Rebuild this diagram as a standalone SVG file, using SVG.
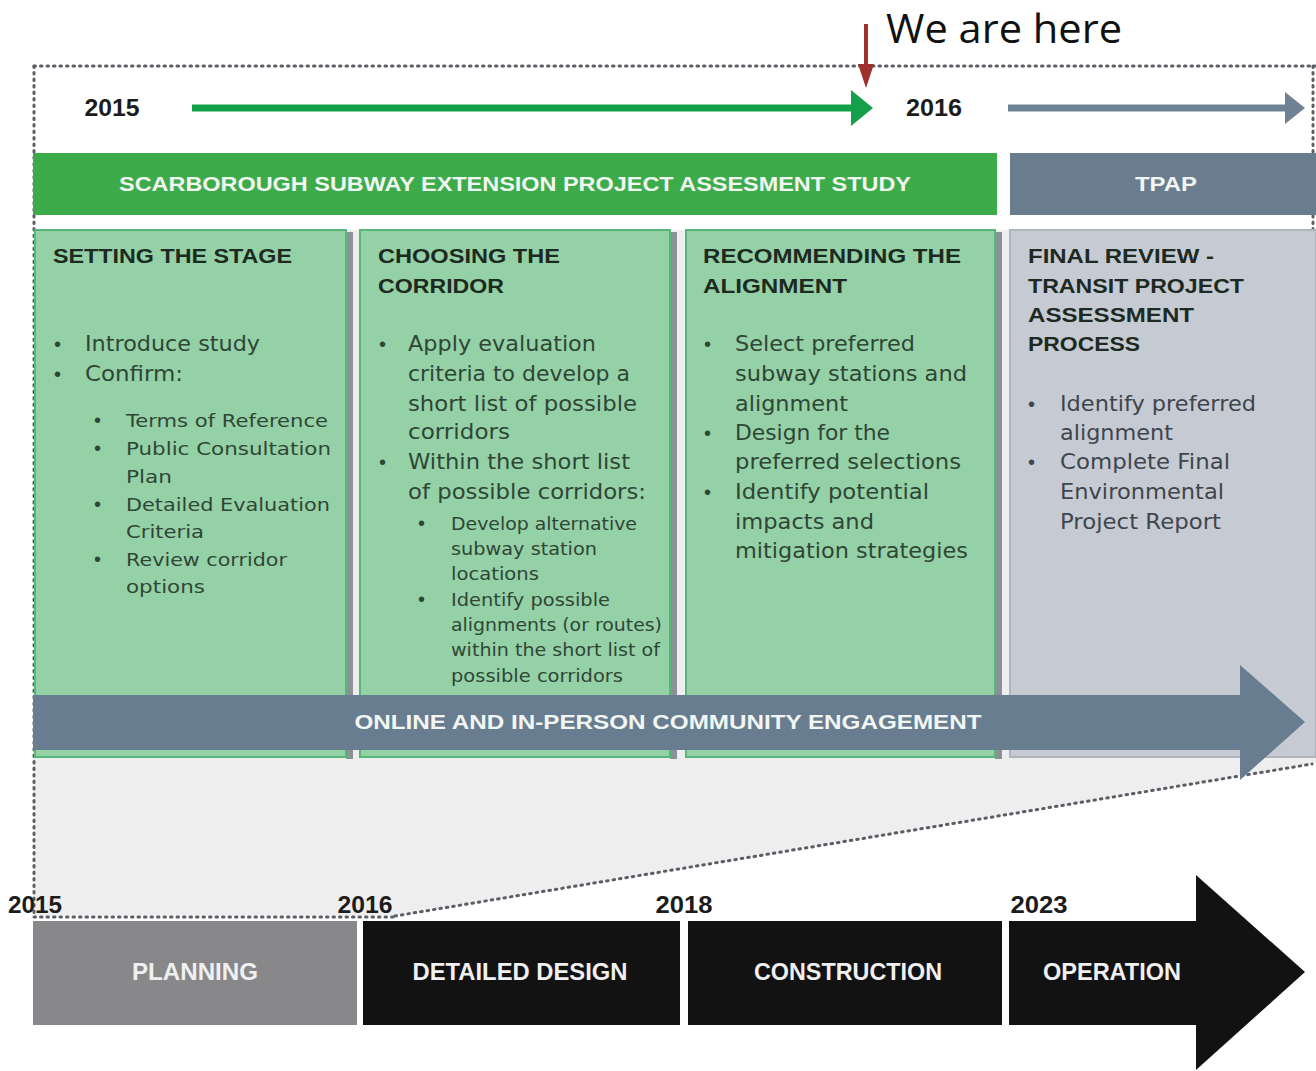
<svg xmlns="http://www.w3.org/2000/svg" width="1316" height="1071" viewBox="0 0 1316 1071">
<defs>
<style>
.dot{fill:none;stroke:#5a5f66;stroke-width:3;stroke-dasharray:1.5 5;stroke-linecap:round}
.yr{font-family:"Liberation Sans",Arial,sans-serif;font-weight:bold;font-size:23px;fill:#1c1c1c;text-anchor:middle}
.bar{font-family:"Liberation Sans",Arial,sans-serif;font-weight:bold;font-size:21px;fill:#f2f6f2;text-anchor:middle}
.hd{font-family:"Liberation Sans",Arial,sans-serif;font-weight:bold;font-size:21px;fill:#1d2a22}
.tx{font-family:"DejaVu Sans","Liberation Sans",sans-serif;font-size:21px;fill:#2f4637}
.sx{font-family:"DejaVu Sans","Liberation Sans",sans-serif;font-size:18.5px;fill:#2f4637}
.ux{font-family:"DejaVu Sans","Liberation Sans",sans-serif;font-size:17.5px;fill:#2f4637}
.gx{font-family:"DejaVu Sans","Liberation Sans",sans-serif;font-size:21px;fill:#3f454c}
.bl{font-family:"Liberation Sans",Arial,sans-serif;font-size:20px}
.card{fill:#95d1a6;stroke:#55b878;stroke-width:2}
.shadow{fill:#8c9097}
.ph{font-family:"Liberation Sans",Arial,sans-serif;font-weight:bold;font-size:23px;fill:#f0f0f0;text-anchor:middle}
</style>
</defs>
<rect width="1316" height="1071" fill="#ffffff"/>
<polygon points="34,230 1316,230 1316,763 395,916 34,916" fill="#eeeeee"/>

<g id="connectors">
<line class="dot" x1="34" y1="66" x2="1316" y2="66"/>
<line class="dot" x1="34" y1="66" x2="34" y2="916"/>
<line class="dot" x1="1313" y1="66" x2="1313" y2="752"/>
<line class="dot" x1="34" y1="917" x2="395" y2="917"/>
<line class="dot" x1="395" y1="916" x2="1312" y2="764"/>
<line class="dot" x1="1240" y1="753" x2="1316" y2="753"/>
<line x1="192" y1="108" x2="856" y2="108" stroke="#14a04a" stroke-width="7"/>
<polygon points="851,90 873,108 851,126" fill="#14a04a"/>
<line x1="1008" y1="108" x2="1290" y2="108" stroke="#6e8294" stroke-width="7"/>
<polygon points="1285,92 1305,108 1285,124" fill="#6e8294"/>
<line x1="866" y1="24" x2="866" y2="70" stroke="#a0302e" stroke-width="4"/>
<polygon points="858,64 874,64 866,88" fill="#a0302e"/>
</g>

<g id="label-we-are-here"><text x="886" y="43" font-family="'Open Sans','Noto Sans',sans-serif" font-size="41" fill="#111" textLength="236" lengthAdjust="spacingAndGlyphs">We are here</text></g>
<g id="year-2015-top"><text class="yr" x="112" y="116" textLength="55" lengthAdjust="spacingAndGlyphs">2015</text></g>
<g id="year-2016-top"><text class="yr" x="934" y="116" textLength="56" lengthAdjust="spacingAndGlyphs">2016</text></g>

<g id="study-bar">
<rect x="33" y="153" width="964" height="62" fill="#3cab4a"/>
<text class="bar" x="515" y="191" textLength="792" lengthAdjust="spacingAndGlyphs">SCARBOROUGH SUBWAY EXTENSION PROJECT ASSESMENT STUDY</text>
</g>
<g id="tpap-bar">
<rect x="1010" y="153" width="306" height="62" fill="#6a7d8f"/>
<text class="bar" x="1166" y="191" textLength="62" lengthAdjust="spacingAndGlyphs">TPAP</text>
</g>

<g id="card-setting">
<rect class="shadow" x="346" y="232" width="7" height="527"/>
<rect class="card" x="35" y="230" width="311" height="527"/>
<text class="hd" x="53" y="263" textLength="239" lengthAdjust="spacingAndGlyphs">SETTING THE STAGE</text>
<text class="tx bl" x="54" y="351">•</text><text class="tx" x="85" y="351" textLength="175" lengthAdjust="spacingAndGlyphs">Introduce study</text>
<text class="tx bl" x="54" y="381">•</text><text class="tx" x="85" y="381" textLength="98" lengthAdjust="spacingAndGlyphs">Confirm:</text>
<text class="sx bl" x="94" y="427">•</text><text class="sx" x="126" y="427" textLength="202" lengthAdjust="spacingAndGlyphs">Terms of Reference</text>
<text class="sx bl" x="94" y="455">•</text><text class="sx" x="126" y="455" textLength="205" lengthAdjust="spacingAndGlyphs">Public Consultation</text>
<text class="sx" x="126" y="483" textLength="46" lengthAdjust="spacingAndGlyphs">Plan</text>
<text class="sx bl" x="94" y="511">•</text><text class="sx" x="126" y="511" textLength="204" lengthAdjust="spacingAndGlyphs">Detailed Evaluation</text>
<text class="sx" x="126" y="538" textLength="78" lengthAdjust="spacingAndGlyphs">Criteria</text>
<text class="sx bl" x="94" y="566">•</text><text class="sx" x="126" y="566" textLength="161" lengthAdjust="spacingAndGlyphs">Review corridor</text>
<text class="sx" x="126" y="593" textLength="79" lengthAdjust="spacingAndGlyphs">options</text>
</g>

<g id="card-corridor">
<rect class="shadow" x="670" y="232" width="7" height="527"/>
<rect class="card" x="360" y="230" width="310" height="527"/>
<text class="hd" x="378" y="263" textLength="182" lengthAdjust="spacingAndGlyphs">CHOOSING THE</text>
<text class="hd" x="378" y="293" textLength="126" lengthAdjust="spacingAndGlyphs">CORRIDOR</text>
<text class="tx bl" x="379" y="351">•</text><text class="tx" x="408" y="351" textLength="188" lengthAdjust="spacingAndGlyphs">Apply evaluation</text>
<text class="tx" x="408" y="381" textLength="222" lengthAdjust="spacingAndGlyphs">criteria to develop a</text>
<text class="tx" x="408" y="411" textLength="229" lengthAdjust="spacingAndGlyphs">short list of possible</text>
<text class="tx" x="408" y="439" textLength="102" lengthAdjust="spacingAndGlyphs">corridors</text>
<text class="tx bl" x="379" y="469">•</text><text class="tx" x="408" y="469" textLength="222" lengthAdjust="spacingAndGlyphs">Within the short list</text>
<text class="tx" x="408" y="499" textLength="238" lengthAdjust="spacingAndGlyphs">of possible corridors:</text>
<text class="ux bl" x="418" y="530">•</text><text class="ux" x="451" y="530" textLength="186" lengthAdjust="spacingAndGlyphs">Develop alternative</text>
<text class="ux" x="451" y="555" textLength="146" lengthAdjust="spacingAndGlyphs">subway station</text>
<text class="ux" x="451" y="580" textLength="88" lengthAdjust="spacingAndGlyphs">locations</text>
<text class="ux bl" x="418" y="606">•</text><text class="ux" x="451" y="606" textLength="159" lengthAdjust="spacingAndGlyphs">Identify possible</text>
<text class="ux" x="451" y="631" textLength="211" lengthAdjust="spacingAndGlyphs">alignments (or routes)</text>
<text class="ux" x="451" y="656" textLength="209" lengthAdjust="spacingAndGlyphs">within the short list of</text>
<text class="ux" x="451" y="682" textLength="172" lengthAdjust="spacingAndGlyphs">possible corridors</text>
</g>

<g id="card-alignment">
<rect class="shadow" x="995" y="232" width="7" height="527"/>
<rect class="card" x="686" y="230" width="309" height="527"/>
<text class="hd" x="703" y="263" textLength="258" lengthAdjust="spacingAndGlyphs">RECOMMENDING THE</text>
<text class="hd" x="703" y="293" textLength="144" lengthAdjust="spacingAndGlyphs">ALIGNMENT</text>
<text class="tx bl" x="704" y="351">•</text><text class="tx" x="735" y="351" textLength="180" lengthAdjust="spacingAndGlyphs">Select preferred</text>
<text class="tx" x="735" y="381" textLength="232" lengthAdjust="spacingAndGlyphs">subway stations and</text>
<text class="tx" x="735" y="411" textLength="113" lengthAdjust="spacingAndGlyphs">alignment</text>
<text class="tx bl" x="704" y="440">•</text><text class="tx" x="735" y="440" textLength="155" lengthAdjust="spacingAndGlyphs">Design for the</text>
<text class="tx" x="735" y="469" textLength="226" lengthAdjust="spacingAndGlyphs">preferred selections</text>
<text class="tx bl" x="704" y="499">•</text><text class="tx" x="735" y="499" textLength="194" lengthAdjust="spacingAndGlyphs">Identify potential</text>
<text class="tx" x="735" y="529" textLength="139" lengthAdjust="spacingAndGlyphs">impacts and</text>
<text class="tx" x="735" y="558" textLength="233" lengthAdjust="spacingAndGlyphs">mitigation strategies</text>
</g>

<g id="card-final-review">
<rect x="1010" y="230" width="306" height="527" fill="#c6cbd3" stroke="#b0b5bd" stroke-width="2"/>
<text class="hd" x="1028" y="263" textLength="186" lengthAdjust="spacingAndGlyphs">FINAL REVIEW -</text>
<text class="hd" x="1028" y="293" textLength="216" lengthAdjust="spacingAndGlyphs">TRANSIT PROJECT</text>
<text class="hd" x="1028" y="322" textLength="166" lengthAdjust="spacingAndGlyphs">ASSESSMENT</text>
<text class="hd" x="1028" y="351" textLength="112" lengthAdjust="spacingAndGlyphs">PROCESS</text>
<text class="gx bl" x="1028" y="411">•</text><text class="gx" x="1060" y="411" textLength="196" lengthAdjust="spacingAndGlyphs">Identify preferred</text>
<text class="gx" x="1060" y="440" textLength="113" lengthAdjust="spacingAndGlyphs">alignment</text>
<text class="gx bl" x="1028" y="469">•</text><text class="gx" x="1060" y="469" textLength="170" lengthAdjust="spacingAndGlyphs">Complete Final</text>
<text class="gx" x="1060" y="499" textLength="164" lengthAdjust="spacingAndGlyphs">Environmental</text>
<text class="gx" x="1060" y="529" textLength="161" lengthAdjust="spacingAndGlyphs">Project Report</text>
</g>

<g id="engagement-arrow">
<polygon points="33,695 1240,695 1240,665 1305,722 1240,780 1240,750 33,750" fill="#687d90"/>
<text class="bar" x="668" y="729" textLength="627" lengthAdjust="spacingAndGlyphs">ONLINE AND IN-PERSON COMMUNITY ENGAGEMENT</text>
</g>

<g id="year-2015"><text class="yr" x="35" y="913" textLength="54" lengthAdjust="spacingAndGlyphs">2015</text></g>
<g id="year-2016"><text class="yr" x="365" y="913" textLength="55" lengthAdjust="spacingAndGlyphs">2016</text></g>
<g id="year-2018"><text class="yr" x="684" y="913" textLength="57" lengthAdjust="spacingAndGlyphs">2018</text></g>
<g id="year-2023"><text class="yr" x="1039" y="913" textLength="57" lengthAdjust="spacingAndGlyphs">2023</text></g>

<g id="phase-planning">
<rect x="33" y="921" width="324" height="104" fill="#88888b"/>
<text class="ph" x="195" y="980" textLength="126" lengthAdjust="spacingAndGlyphs">PLANNING</text>
</g>
<g id="phase-detailed-design">
<rect x="363" y="921" width="317" height="104" fill="#121212"/>
<text class="ph" x="520" y="980" textLength="215" lengthAdjust="spacingAndGlyphs">DETAILED DESIGN</text>
</g>
<g id="phase-construction">
<rect x="688" y="921" width="314" height="104" fill="#121212"/>
<text class="ph" x="848" y="980" textLength="188" lengthAdjust="spacingAndGlyphs">CONSTRUCTION</text>
</g>
<g id="phase-operation">
<polygon points="1009,921 1196,921 1196,875 1305,972 1196,1070 1196,1025 1009,1025" fill="#121212"/>
<text class="ph" x="1112" y="980" textLength="138" lengthAdjust="spacingAndGlyphs">OPERATION</text>
</g>
</svg>
